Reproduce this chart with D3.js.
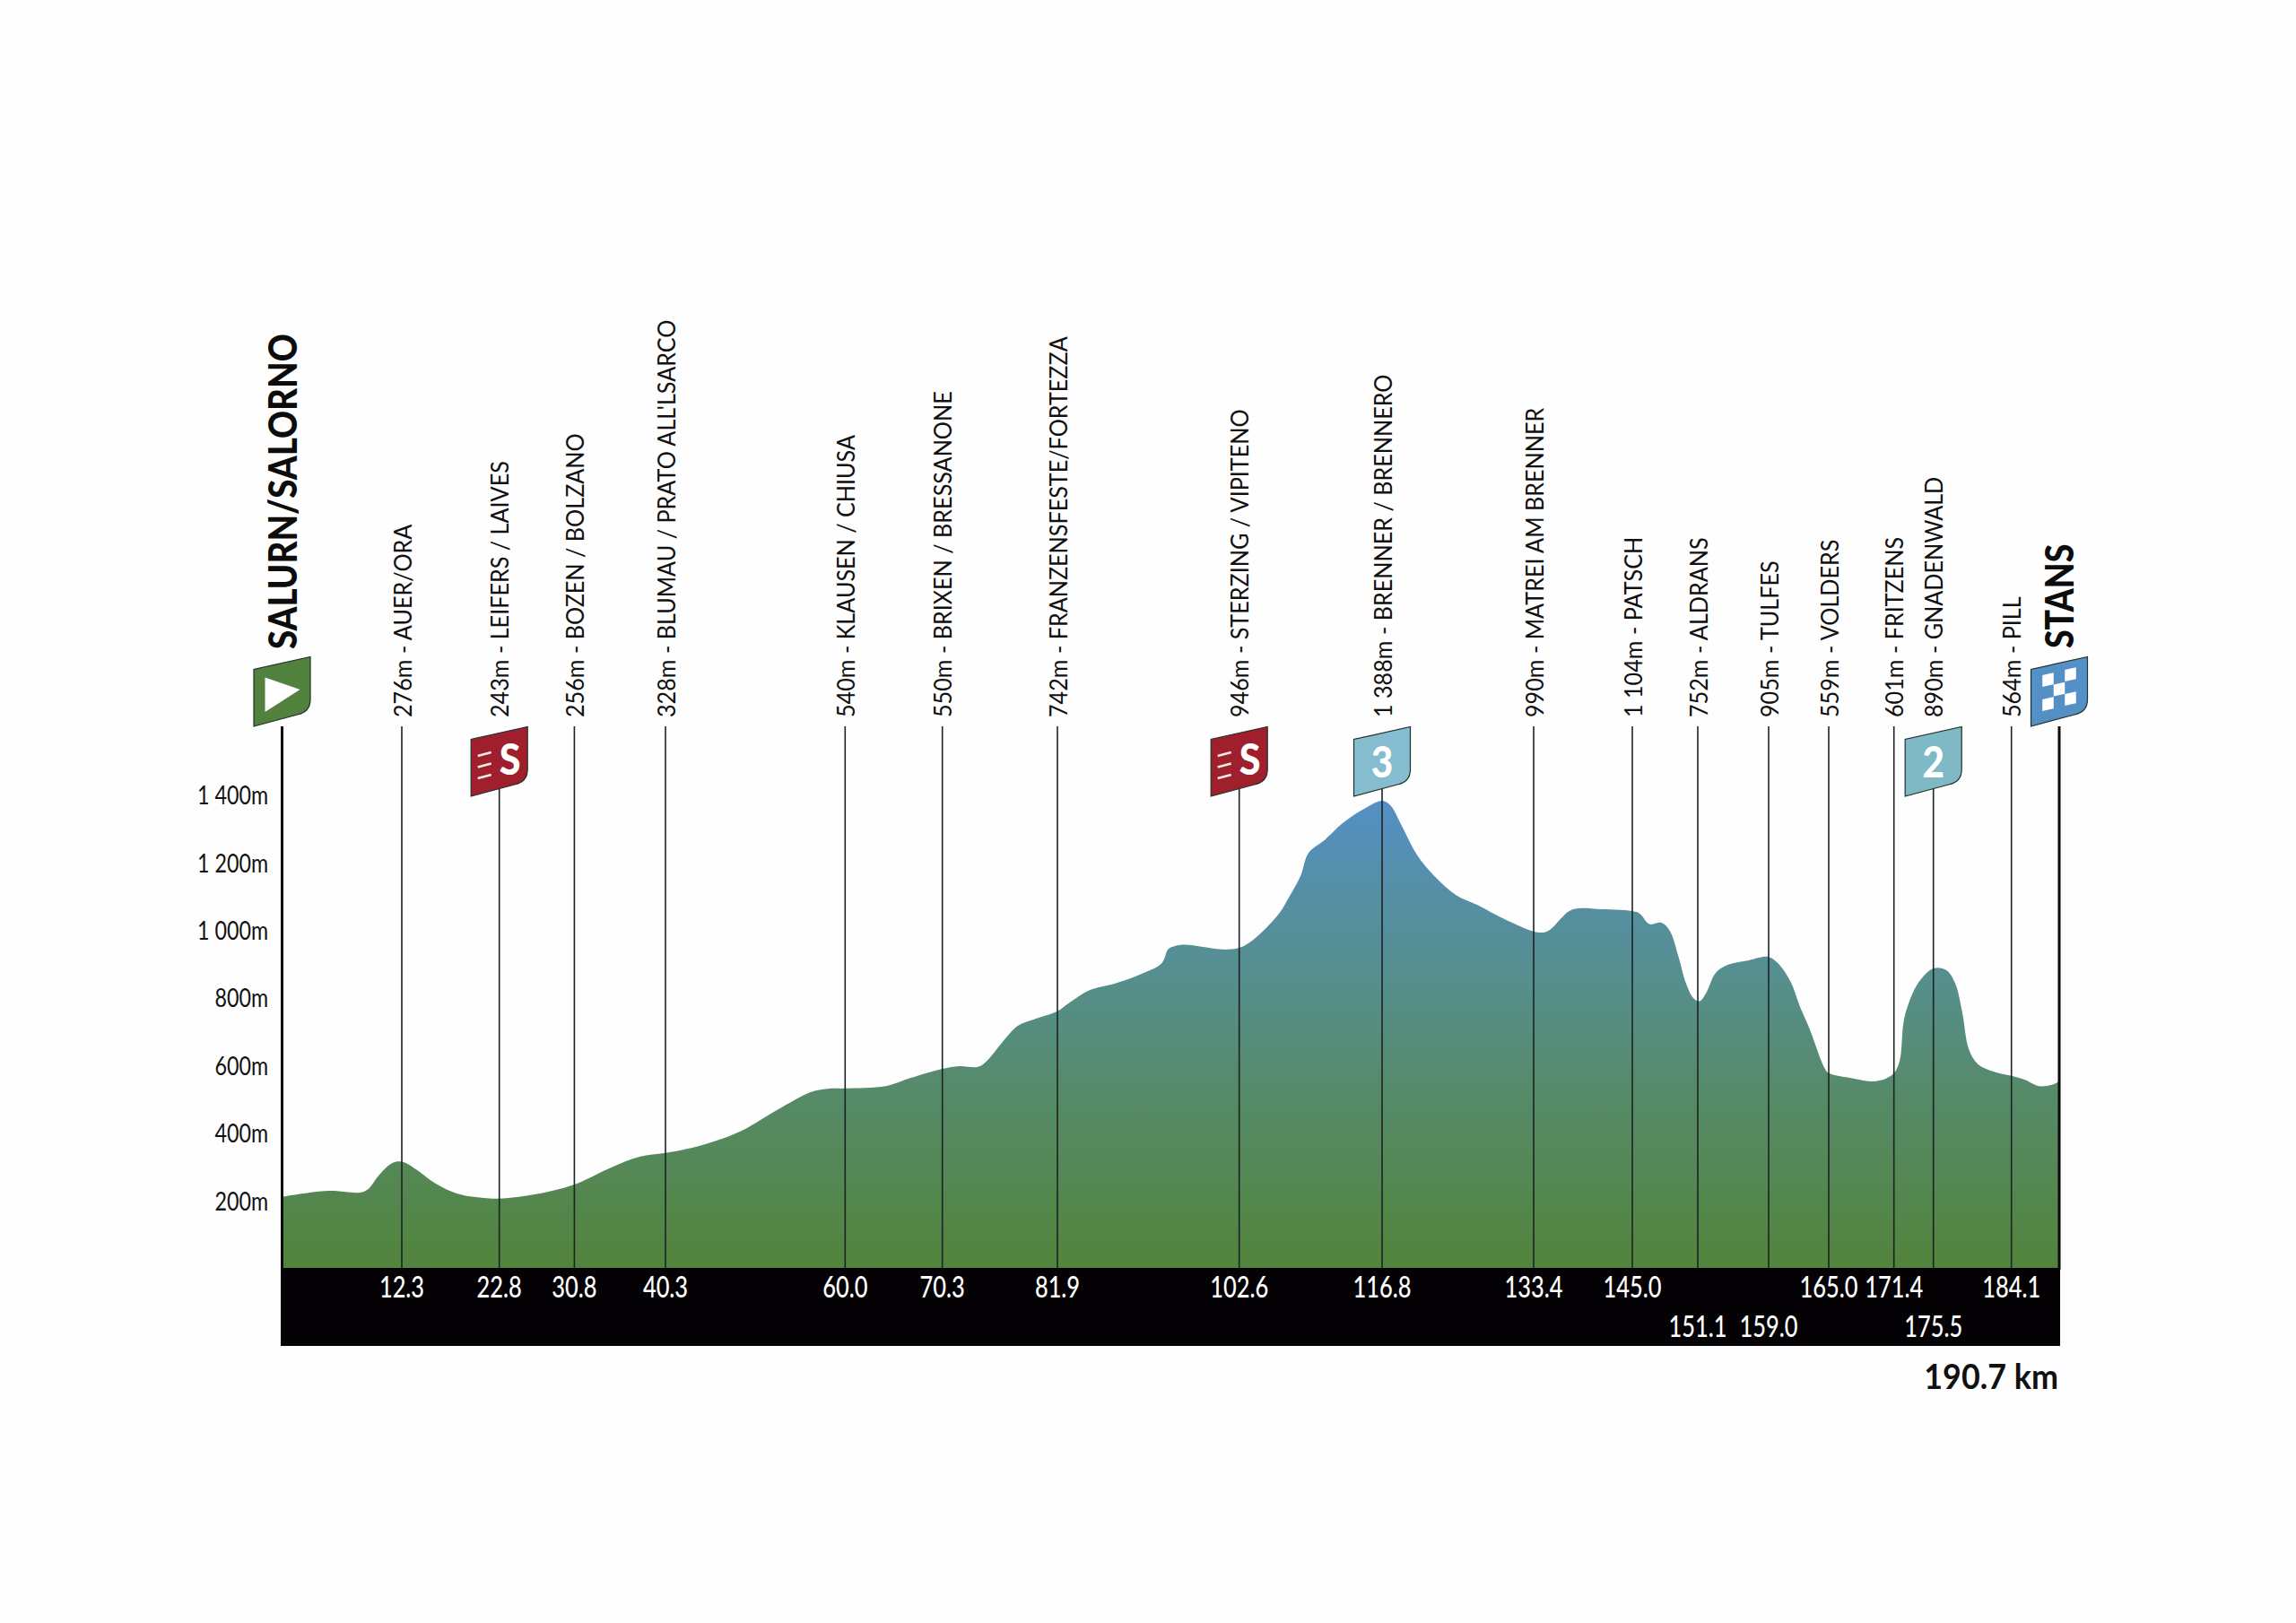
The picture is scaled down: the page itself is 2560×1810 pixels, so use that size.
<!DOCTYPE html>
<html><head><meta charset="utf-8">
<script src="https://cdn.jsdelivr.net/npm/d3@7/dist/d3.min.js"></script>
<style>html,body{margin:0;padding:0;background:#fefefe}svg{display:block}text{font-family:Lato,sans-serif}</style>
</head><body><div id="c"></div>
<script>
const profileKm=[0,4.7,8.0,8.8,10.0,11.3,12.3,13.7,16.0,18.5,21.1,22.8,26.3,30.8,34.7,37.6,40.3,44.0,48.5,51.9,53.9,56.2,58.1,60.0,64.3,66.7,70.3,72.0,73.9,74.8,76.3,77.9,79.5,81.9,83.3,85.6,88.4,91.2,93.8,94.5,95.3,96.4,98.3,100.6,102.6,104.0,106.6,107.5,108.7,109.5,111.1,112.9,114.9,116.8,117.7,119.0,120.6,122.6,124.9,127.2,129.8,133.2,134.5,135.3,137.6,139.0,140.8,145.0,145.7,146.6,147.7,148.5,149.3,150.0,150.7,151.3,152.0,153.1,154.5,156.8,159.0,160.0,161.2,162.1,163.1,164.6,165.0,167.5,169.3,170.6,171.4,172.0,172.4,172.9,174.0,175.5,176.9,177.9,178.7,179.4,180.4,182.1,184.1,185.9,187.9,189.6,190.7];
const profileElev=[210,228,223,232,276,310,314,294,249,218,207,205,216,247,298,329,340,361,404,457,488,520,530,531,538,560,589,597,595,613,666,716,735,759,785,822,841,867,902,942,952,956,950,942,947,971,1050,1094,1160,1228,1266,1316,1356,1382,1369,1306,1223,1157,1103,1074,1037,997,992,1000,1056,1064,1062,1056,1048,1017,1021,997,921,842,798,789,812,873,897,910,920,899,846,775,706,590,576,560,552,560,576,613,727,780,846,886,881,842,753,647,603,581,568,557,538,541,552];
const markerKm=[12.3,22.8,30.8,40.3,60.0,70.3,81.9,102.6,116.8,133.4,145.0,151.1,159.0,165.0,171.4,175.5,184.1];
const markerElev=["276m","243m","256m","328m","540m","550m","742m","946m","1 388m","990m","1 104m","752m","905m","559m","601m","890m","564m"];
const markerName=["AUER/ORA","LEIFERS / LAIVES","BOZEN / BOLZANO","BLUMAU / PRATO ALL'LSARCO","KLAUSEN / CHIUSA","BRIXEN / BRESSANONE","FRANZENSFESTE/FORTEZZA","STERZING / VIPITENO","BRENNER / BRENNERO","MATREI AM BRENNER","PATSCH","ALDRANS","TULFES","VOLDERS","FRITZENS","GNADENWALD","PILL"];
const markerRow=[0,0,0,0,0,0,0,0,0,0,0,1,1,0,0,1,0];
const flagKm=[22.8,102.6,116.8,175.5];
const flagType=["S","S","3","2"];
const elevTicks=[200,400,600,800,1000,1200,1400];
const startName="SALURN/SALORNO", finishName="STANS", totalKm=190.7, totalLabel="190.7 km";

const W=2560,H=1810,base=1414,barBottom=1501,lineTop=810,flagBottom=888,endFlagBottom=810;
const stops=[0,...markerKm,totalKm];
const x=d3.scaleLinear().domain(stops).range([314.5,448,556.7,640.4,742,942.3,1050.7,1179,1381.7,1541,1710,1820,1893,1972,2039,2111.7,2155.7,2242.7,2296]);
const y=d3.scaleLinear().domain([0,1400]).range([base,base-1400*0.377]);
const svg=d3.select("#c").append("svg").attr("width",W).attr("height",H);
svg.append("rect").attr("width",W).attr("height",H).attr("fill","#fefefe");
const defs=svg.append("defs");
const g=defs.append("linearGradient").attr("id","g").attr("gradientUnits","userSpaceOnUse").attr("x1",0).attr("x2",0).attr("y1",y(0)).attr("y2",y(1388));
[[0,"#52843c"],[0.35,"#568a66"],[0.65,"#568f92"],[0.85,"#558fad"],[1,"#5490c6"]].forEach(s=>g.append("stop").attr("offset",s[0]).attr("stop-color",s[1]));

const pts=profileKm.map((k,i)=>[k,profileElev[i]]);
svg.append("path").datum(pts).attr("fill","url(#g)")
  .attr("d",d3.area().x(d=>x(d[0])).y0(y(0)).y1(d=>y(d[1])).curve(d3.curveCatmullRom.alpha(0.5)));

svg.append("rect").attr("x",313).attr("y",base).attr("width",1984).attr("height",barBottom-base).attr("fill","#050205");

// marker lines
const isFlag=k=>flagKm.includes(k);
svg.append("g").selectAll("line").data(markerKm).join("line")
  .attr("x1",d=>x(d)).attr("x2",d=>x(d))
  .attr("y1",d=>isFlag(d)?flagBottom-8:lineTop).attr("y2",base)
  .attr("stroke","#1c2324").attr("stroke-width",1.6);
[0,totalKm].forEach(k=>svg.append("line").attr("x1",x(k)).attr("x2",x(k)).attr("y1",lineTop).attr("y2",base+2).attr("stroke","#0a0a0a").attr("stroke-width",3));

// elevation axis
const fmtElev=d=>(d>=1000?Math.floor(d/1000)+" "+String(d%1000).padStart(3,"0"):d)+"m";
const ax=svg.append("g").attr("transform","translate(299,0)").call(d3.axisLeft(y).tickValues(elevTicks).tickSize(0).tickPadding(0).tickFormat(fmtElev));
ax.select(".domain").remove();
ax.selectAll(".tick").attr("transform",null);
ax.selectAll("text").attr("fill","#111").attr("font-size",28).attr("font-family","Lato,sans-serif")
  .attr("text-anchor","end").attr("dy",null).attr("x",null).attr("y",null)
  .attr("transform",d=>`translate(0,${y(d)+11}) scale(0.83,1)`);

// km labels
svg.append("g").selectAll("text").data(markerKm).join("text")
  .attr("transform",(d,i)=>`translate(${x(d)},${markerRow[i]?1491:1447}) scale(0.77,1)`)
  .attr("text-anchor","middle").attr("fill","#fff").attr("font-size",33).attr("font-weight",500)
  .text(d=>d.toFixed(1));

svg.append("text").attr("transform",`translate(2295,1549) scale(0.92,1)`).attr("text-anchor","end")
  .attr("font-size",39).attr("font-weight",700).attr("fill","#111").text(totalLabel);

// place labels
svg.append("g").selectAll("text").data(markerKm).join("text")
  .attr("transform",d=>`translate(${x(d)+10.5},800) rotate(-90) scale(0.95,1)`)
  .attr("font-size",26.5).attr("fill","#111")
  .text((d,i)=>markerElev[i]+"  -  "+markerName[i]);

svg.append("text").attr("transform",`translate(330.5,724) rotate(-90) scale(0.893,1)`).attr("font-size",43).attr("font-weight",900).attr("fill","#0c0c0c").text(startName);
svg.append("text").attr("transform",`translate(2312,723) rotate(-90) scale(0.87,1)`).attr("font-size",43).attr("font-weight",900).attr("fill","#0c0c0c").text(finishName);

// flags
const flagPath=(b)=>{const l=-31.5,r=31.5;return `M${l},${b} L${l},${b-63.5} L${r},${b-77.5} L${r},${b-30} Q${r},${b-16} 17,${b-13} Z`;};
function flag(k,b,fill){return svg.append("g").attr("transform",`translate(${x(k)},0)`).call(s=>s.append("path").attr("d",flagPath(b)).attr("fill",fill).attr("stroke","#20302a").attr("stroke-width",1.2));}
const fs=flag(0,endFlagBottom,"#51813d");
fs.append("path").attr("d","M-19,794 L-19,755.5 L20,769 Z").attr("fill","#fff");
const ff=flag(totalKm,endFlagBottom,"#5490c6");
for(let r=0;r<3;r++)for(let c=0;c<3;c++){ if((r+c)%2==0){
  const px=-13+(c-1)*12.5+13-6.25, py=770+(r-1)*13.5-(c-1)*3;
  ff.append("path").attr("d",`M${px},${py-6.5} l12.5,-2.8 l0,13 l-12.5,2.8 Z`).attr("fill","#fff");
}}
const flagColor={S:"#9f1f2c","3":"#85bccf","2":"#7fb9c6"};
flagKm.forEach((k,i)=>{
  const t=flagType[i], f=flag(k,flagBottom,flagColor[t]);
  if(t==="S"){
    f.append("text").attr("transform","translate(12,864) scale(0.9,1)").attr("text-anchor","middle").attr("font-size",48).attr("font-weight",900).attr("fill","#fff").text("S");
    [841,853.5,866].forEach(yy=>f.append("line").attr("x1",-24).attr("x2",-9).attr("y1",yy+2).attr("y2",yy-2).attr("stroke","#fff").attr("stroke-width",2.6).attr("opacity",0.9));
  } else {
    f.append("text").attr("transform","translate(0,867) scale(0.88,1)").attr("text-anchor","middle").attr("font-size",48).attr("font-weight",900).attr("fill","#fff").text(t);
  }
});
</script></body></html>
